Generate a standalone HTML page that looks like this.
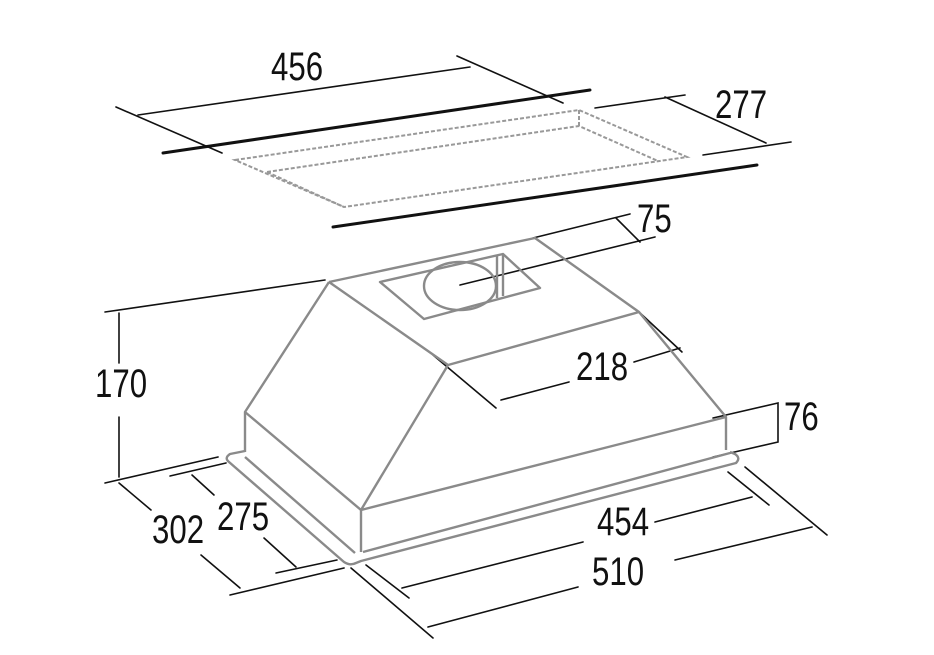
<!DOCTYPE html>
<html><head><meta charset="utf-8"><style>
html,body{margin:0;padding:0;background:#fff}
svg{display:block}
text{font-family:"Liberation Sans",sans-serif;font-size:40px;fill:#111}
</style></head><body>
<svg width="934" height="655" viewBox="0 0 934 655" xmlns="http://www.w3.org/2000/svg">
<g stroke="#111" stroke-width="1.6" fill="none" stroke-linecap="round">
<line x1="116" y1="107" x2="222" y2="153"/>
<line x1="138" y1="115" x2="470" y2="67"/>
<line x1="457" y1="56" x2="563" y2="103"/>
<line x1="595" y1="108" x2="685" y2="95"/>
<line x1="665" y1="97" x2="766" y2="143"/>
<line x1="703" y1="155" x2="791" y2="142"/>
<line x1="533" y1="238" x2="630" y2="214"/>
<line x1="616" y1="218" x2="640" y2="242"/>
<line x1="460" y1="285" x2="655" y2="237"/>
<line x1="105" y1="312" x2="325" y2="280"/>
<line x1="119" y1="313" x2="119" y2="363"/>
<line x1="119" y1="417" x2="119" y2="477"/>
<line x1="105" y1="483" x2="218" y2="457"/>
<line x1="119" y1="483" x2="151" y2="510"/>
<line x1="201" y1="555" x2="240" y2="588"/>
<line x1="230" y1="595" x2="344" y2="568"/>
<line x1="170" y1="476" x2="226" y2="463"/>
<line x1="192" y1="475" x2="214" y2="495"/>
<line x1="264" y1="538" x2="296" y2="567"/>
<line x1="276" y1="573" x2="337" y2="560"/>
<line x1="366" y1="565" x2="409" y2="598"/>
<line x1="402" y1="588" x2="583" y2="542"/>
<line x1="655" y1="522" x2="752" y2="497"/>
<line x1="728" y1="472" x2="769" y2="505"/>
<line x1="351" y1="568" x2="433" y2="638"/>
<line x1="428" y1="627" x2="578" y2="587"/>
<line x1="675" y1="560" x2="812" y2="527"/>
<line x1="745" y1="467" x2="827" y2="535"/>
<polyline points="713,418 778,403 778,442 713,457"/>
<line x1="433" y1="355" x2="496" y2="408"/>
<line x1="501" y1="400" x2="569" y2="382"/>
<line x1="634" y1="362" x2="680" y2="348"/>
<line x1="639" y1="312" x2="682" y2="352"/>
</g>
<g stroke="#111" stroke-width="3" stroke-linecap="round">
<line x1="163" y1="153" x2="590" y2="90"/>
<line x1="333" y1="227" x2="757" y2="165"/>
</g>
<g stroke="#999" stroke-width="2" fill="none" stroke-dasharray="4,2">
<polygon points="235,160 579,110 687,157 344,207"/>
<polyline points="267,172 579,126 658,161"/>
<line x1="579" y1="110" x2="579" y2="126"/>
<line x1="267" y1="172" x2="344" y2="207"/>
</g>
<g stroke="#8a8a8a" stroke-width="2.4" fill="none" stroke-linejoin="round">
<polyline points="329,282 535,238 639,312 726,417 726,450"/>
<polyline points="329,282 448,365 639,312"/>
<polyline points="329,282 245,412 245,452"/>
<polyline points="448,365 361,510 361,552"/>
<line x1="245" y1="412" x2="361" y2="510"/>
<line x1="361" y1="510" x2="726" y2="417"/>
<line x1="363" y1="552" x2="730" y2="453"/>
<polygon points="380,282 503,254 540,288 424,319"/>
<ellipse cx="460" cy="286" rx="36" ry="24"/>
<line x1="497" y1="256" x2="497" y2="298"/>
<line x1="503" y1="254" x2="503" y2="296"/>
<path d="M245,451 L230,454 Q224,458 229,462 L344,562 Q350,566 356,563 L361,561 L736,463 Q741,458 735,454 L730,452"/>
<line x1="245" y1="457" x2="355" y2="553"/>
</g>
<g>
<text transform="translate(271 80) scale(0.78 1)">456</text>
<text transform="translate(715 118) scale(0.78 1)">277</text>
<text transform="translate(637 232) scale(0.78 1)">75</text>
<text transform="translate(95 397) scale(0.78 1)">170</text>
<text transform="translate(576 380) scale(0.78 1)">218</text>
<text transform="translate(784 430) scale(0.78 1)">76</text>
<text transform="translate(217 530) scale(0.78 1)">275</text>
<text transform="translate(152 543) scale(0.78 1)">302</text>
<text transform="translate(597 535) scale(0.78 1)">454</text>
<text transform="translate(592 585) scale(0.78 1)">510</text>
</g>
</svg>
</body></html>
